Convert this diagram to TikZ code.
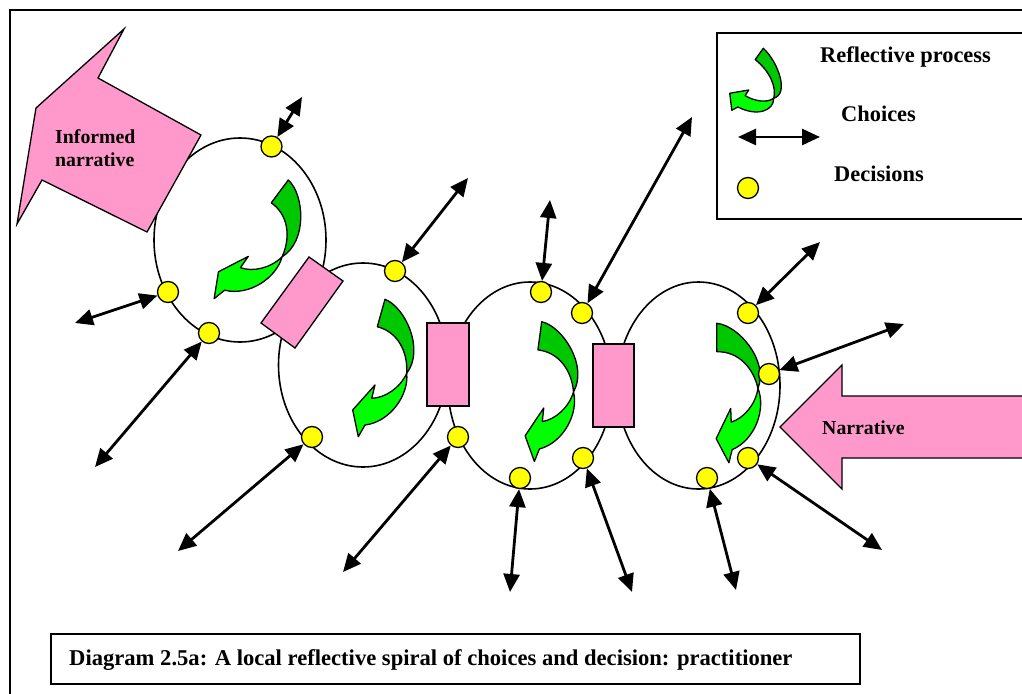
\documentclass[tikz,border=0pt]{standalone}
\usepackage{fontspec}
\setmainfont{Liberation Serif}
\usetikzlibrary{arrows.meta}
\definecolor{pinkf}{HTML}{FF99CC}
\definecolor{dgreen}{HTML}{00C800}
\definecolor{lgreen}{HTML}{00FF00}
\definecolor{yel}{HTML}{FFFF00}
\tikzset{
  rarrow/.pic={
    \path[draw=black, line width=1.3pt, fill=dgreen, line join=round]
      (0,0) .. controls (20,7.7) and (40,50) .. (21.7,74)
      .. controls (23,52.7) and (13,32.7) .. (-7.7,27.4) -- cycle;
    \path[draw=black, line width=1.3pt, fill=lgreen, line join=round]
      (21.7,74) .. controls (24,95.7) and (5,122.7) .. (-20,125.7)
      -- (-26.7,137.4) -- (-32.3,110.7) -- (-10,85.7) -- (-13.3,99)
      .. controls (0,98.7) and (15,88.7) .. (21.7,74) -- cycle;
  },
  loop/.style={draw=black, line width=1.6pt},
  pinkshape/.style={draw=black, line width=1.3pt, fill=pinkf, line join=miter},
  dec/.style={circle, draw=black, fill=yel, line width=1.3pt, minimum size=21pt, inner sep=0pt},
  choice/.style={line width=2.8pt, {Triangle[length=18pt,width=16pt]}-{Triangle[length=18pt,width=16pt]}},
  lbl/.style={anchor=base west, inner sep=0pt, font=\fontsize{22.4}{26}\selectfont\bfseries},
  albl/.style={anchor=base west, inner sep=0pt, font=\fontsize{19.8}{22.4}\selectfont\bfseries},
}
\begin{document}
\begin{tikzpicture}[x=1pt, y=-1pt]
\useasboundingbox (0,0) rectangle (1022,693);
\begin{scope}
\clip (0,0) rectangle (1022,693);
\fill[white] (0,0) rectangle (1022,693);
\draw[line width=2.5pt] (10,10) rectangle (1045,720);

% legend box
\draw[line width=1.6pt, fill=white] (717,33) rectangle (1045,219);

% loops
\draw[loop] (240,240) ellipse [x radius=86pt, y radius=102pt];
\draw[loop] (363,365) ellipse [x radius=84.5pt, y radius=102pt];
\draw[loop] (530,385.5) ellipse [x radius=82pt, y radius=103.5pt];
\draw[loop] (698.5,385.5) ellipse [x radius=81.5pt, y radius=103.5pt];

% big pink arrows
\path[pinkshape] (124,29) -- (36,108) -- (17,224) -- (42,180) -- (147,232) -- (201,135) -- (98,78) -- cycle;
\path[pinkshape] (780,427) -- (842,365) -- (842,396) -- (1045,396) -- (1045,458) -- (842,458) -- (842,489) -- cycle;

% pink links
\path[pinkshape] (309,257) -- (343,281) -- (295,348) -- (261,323) -- cycle;
\path[pinkshape] (427,323) rectangle (469,406);
\path[pinkshape] (593,344) rectangle (634,427);

% reflective process arrows
\pic[rotate=-21] at (288.3,180) {rarrow};
\pic at (385,299.3) {rarrow};
\pic[rotate=8] at (541.7,321.7) {rarrow};
\pic[rotate=16] at (716.7,323.3) {rarrow};
\pic[cm={0.760,-0.4586,0.0815,0.540,(0,0)}] at (763.3,48.3) {rarrow};

% decisions
\node[dec] (d1a) at (271.5,146.5) {};
\node[dec] (d1b) at (168,292) {};
\node[dec] (d1c) at (209,333) {};
\node[dec] (d2a) at (395,271) {};
\node[dec] (d2b) at (312,437) {};
\node[dec] (d2c) at (458,437) {};
\node[dec] (d3a) at (541,292) {};
\node[dec] (d3b) at (582,313) {};
\node[dec] (d3c) at (520,478) {};
\node[dec] (d3d) at (583,458) {};
\node[dec] (d4a) at (748,313) {};
\node[dec] (d4b) at (769,374) {};
\node[dec] (d4c) at (748,458) {};
\node[dec] (d4d) at (707,478) {};
\node[dec] (ld) at (748,188) {};

% choice ends
\coordinate (e1a) at (302,97);
\coordinate (e1b) at (75,323);
\coordinate (e1c) at (95,467);
\coordinate (e2a) at (468,178);
\coordinate (e2b) at (178,551);
\coordinate (e2c) at (343,572);
\coordinate (e3a) at (550,200);
\coordinate (e3b) at (692,117);
\coordinate (e3c) at (510,592);
\coordinate (e3d) at (632,592);
\coordinate (e4a) at (820,242);
\coordinate (e4b) at (904,324);
\coordinate (e4c) at (882,550);
\coordinate (e4d) at (736,590);
\coordinate (la1) at (738,137);
\coordinate (la2) at (820,137);

\draw[choice] (d1a) -- (e1a);
\draw[choice] (d1b) -- (e1b);
\draw[choice] (d1c) -- (e1c);
\draw[choice] (d2a) -- (e2a);
\draw[choice] (d2b) -- (e2b);
\draw[choice] (d2c) -- (e2c);
\draw[choice] (d3a) -- (e3a);
\draw[choice] (d3b) -- (e3b);
\draw[choice] (d3c) -- (e3c);
\draw[choice] (d3d) -- (e3d);
\draw[choice] (d4a) -- (e4a);
\draw[choice] (d4b) -- (e4b);
\draw[choice] (d4c) -- (e4c);
\draw[choice] (d4d) -- (e4d);
\draw[choice] (la1) -- (la2);

% texts
\node[albl] (t1) at (55,143) {Informed};
\node[albl] (t2) at (55,166) {narrative};
\node[albl] (t3) at (822,434) {Narrative};
\node[lbl] (l1) at (820,63) {Reflective process};
\node[lbl] (l2) at (841,121.7) {Choices};
\node[lbl] (l3) at (834,181) {Decisions};

% caption
\draw[line width=1.6pt] (51,634) rectangle (860,684);
\node[lbl, font=\fontsize{22.6}{26}\selectfont\bfseries] (cap) at (69,665.7) {Diagram 2.5a: A local reflective spiral of choices and decision: practitioner};
\end{scope}
\end{tikzpicture}
\end{document}
